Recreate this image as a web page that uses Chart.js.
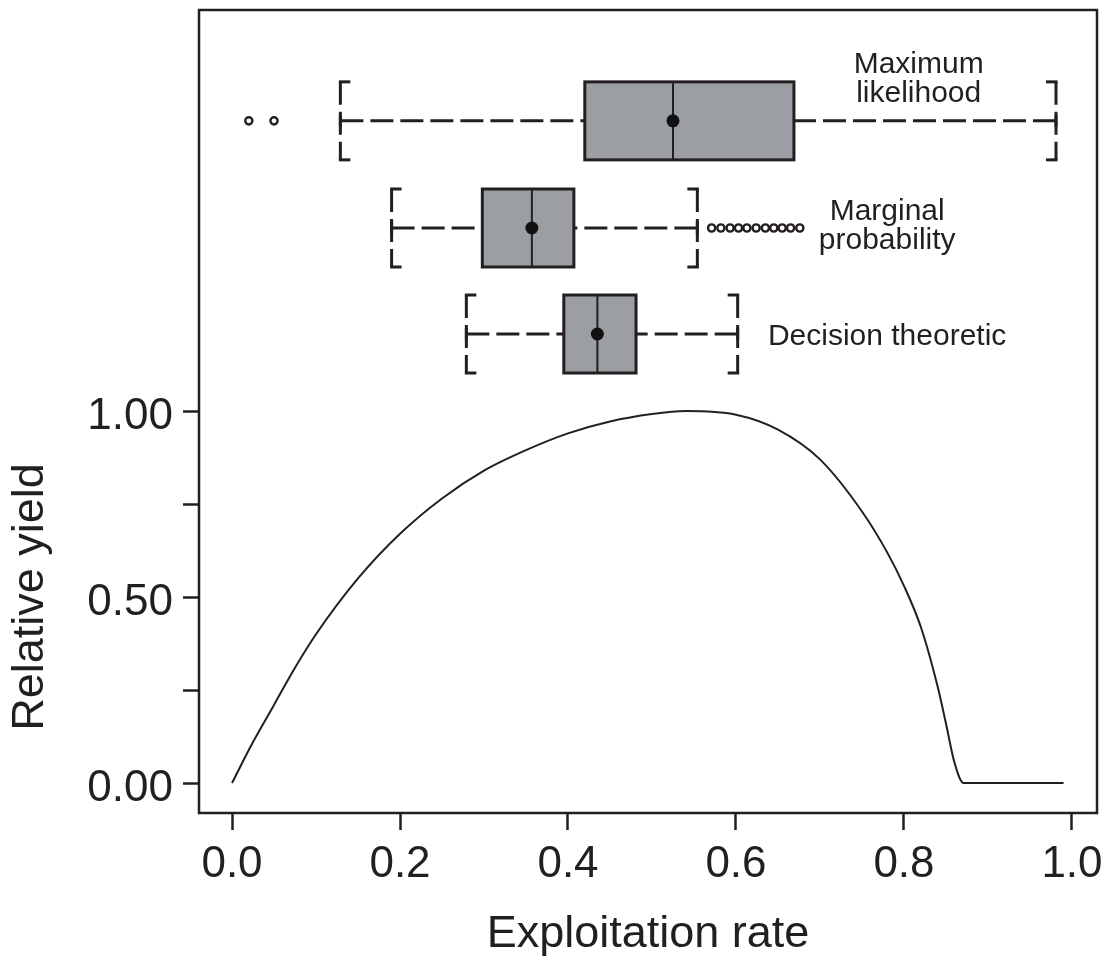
<!DOCTYPE html>
<html>
<head>
<meta charset="utf-8">
<script src="https://cdn.jsdelivr.net/npm/chart.js@4.4.1/dist/chart.umd.min.js"></script>
<style>
  html, body { margin: 0; padding: 0; background: #fff; }
</style>
</head>
<body>
<canvas id="chart" width="1112" height="963"></canvas>
<script>
// ================= DATA =================
const rateTicks = [0, 0.2, 0.4, 0.6, 0.8, 1.0];
const yieldTicks = [0, 0.25, 0.5, 0.75, 1.0];
const yieldLabels = [0, 0.5, 1.0];

// yield curve
const curveRate  = [0, 0.025, 0.05, 0.075, 0.1, 0.15, 0.2, 0.25, 0.3, 0.35, 0.4, 0.45, 0.5, 0.54, 0.6, 0.65, 0.7, 0.75, 0.78, 0.8, 0.82, 0.84, 0.85, 0.86, 0.871, 0.99];
const curveYield = [0, 0.11, 0.21, 0.31, 0.40, 0.55, 0.67, 0.765, 0.84, 0.895, 0.94, 0.972, 0.992, 1.0, 0.99, 0.95, 0.87, 0.73, 0.62, 0.53, 0.42, 0.26, 0.16, 0.056, 0, 0];

// box plots of the estimated exploitation rate
const methodNames = [["Maximum", "likelihood"], ["Marginal", "probability"], ["Decision theoretic"]];
const boxRow      = [1.780, 1.492, 1.207];   // where each box sits on the yield axis
const whiskerLow  = [0.129, 0.190, 0.279];
const q1          = [0.420, 0.298, 0.395];
const median      = [0.525, 0.357, 0.435];
const q3          = [0.669, 0.407, 0.481];
const whiskerHigh = [0.981, 0.554, 0.602];
const means       = [0.525, 0.357, 0.435];
const outliersML  = [0.020, 0.050];
const outliersMP  = [0.571, 0.582, 0.593, 0.603, 0.613, 0.624, 0.635, 0.645, 0.655, 0.665, 0.676];

// ================= STYLE =================
const INK = "#231f20";
const BOX_FILL = "#9b9ea2";
const BOX_HALF = 39;      // px
const FONT = '"Liberation Sans", Arial, Helvetica, sans-serif';
// label anchors (axis units) for the method names
const labelSpots = [
    { x: 0.8175, y: 1.909, align: "center" },
    { x: 0.780,  y: 1.513, align: "center" },
    { x: 0.638,  y: 1.177, align: "left" }
];

function seg(ctx, x1, y1, x2, y2) {
    ctx.beginPath();
    ctx.moveTo(x1, y1);
    ctx.lineTo(x2, y2);
    ctx.stroke();
}

const boxPlugin = {
    id: "boxes",
    beforeDatasetsDraw(chart) {
        const { ctx, scales: { x, y } } = chart;
        ctx.save();
        ctx.strokeStyle = INK;
        ctx.lineCap = "butt";
        boxRow.forEach((row, i) => {
            const cy = y.getPixelForValue(row);
            const top = cy - BOX_HALF, bot = cy + BOX_HALF;
            const xl = x.getPixelForValue(whiskerLow[i]);
            const x1 = x.getPixelForValue(q1[i]);
            const xm = x.getPixelForValue(median[i]);
            const x3 = x.getPixelForValue(q3[i]);
            const xh = x.getPixelForValue(whiskerHigh[i]);

            // dashed whiskers, drawn from the cap toward the box
            ctx.lineWidth = 3;
            ctx.setLineDash([23, 7]);
            seg(ctx, xl, cy, x1, cy);
            seg(ctx, xh, cy, x3, cy);
            // dashed caps
            seg(ctx, xl, top, xl, bot);
            seg(ctx, xh, top, xh, bot);
            ctx.setLineDash([]);
            seg(ctx, xl - 1.5, top, xl + 10, top);
            seg(ctx, xl - 1.5, bot, xl + 10, bot);
            seg(ctx, xh + 1.5, top, xh - 10, top);
            seg(ctx, xh + 1.5, bot, xh - 10, bot);
            seg(ctx, xl, cy - 6, xl, cy + 6);
            seg(ctx, xh, cy - 6, xh, cy + 6);

            // box
            ctx.fillStyle = BOX_FILL;
            ctx.fillRect(x1, top, x3 - x1, bot - top);
            ctx.lineWidth = 3;
            ctx.strokeRect(x1, top, x3 - x1, bot - top);
            ctx.lineWidth = 2;
            seg(ctx, xm, top, xm, bot);
        });
        ctx.restore();
    },
    afterDraw(chart) {
        const { ctx, chartArea: a, scales: { x, y } } = chart;
        ctx.save();
        // frame
        ctx.strokeStyle = INK;
        ctx.lineWidth = 2.5;
        ctx.strokeRect(a.left, a.top, a.right - a.left, a.bottom - a.top);

        // method names
        ctx.fillStyle = INK;
        ctx.font = "30px " + FONT;
        ctx.textBaseline = "alphabetic";
        methodNames.forEach((lines, i) => {
            const s = labelSpots[i];
            ctx.textAlign = s.align;
            lines.forEach((t, k) => {
                ctx.fillText(t, x.getPixelForValue(s.x), y.getPixelForValue(s.y) + k * 29);
            });
        });

        // y title, centred on the 0..1 range
        const cy = (y.getPixelForValue(0) + y.getPixelForValue(1)) / 2;
        ctx.translate(31, cy);
        ctx.rotate(-Math.PI / 2);
        ctx.font = "45px " + FONT;
        ctx.textAlign = "center";
        ctx.textBaseline = "middle";
        ctx.fillText("Relative yield", 0, 0);
        ctx.restore();
    }
};

// ================= CHART =================
const ctx = document.getElementById("chart").getContext("2d");
new Chart(ctx, {
    type: "scatter",
    data: {
        datasets: [
            {
                data: curveRate.map((r, i) => ({ x: r, y: curveYield[i] })),
                showLine: true,
                borderColor: INK,
                borderWidth: 2,
                pointRadius: 0,
                cubicInterpolationMode: "monotone"
            },
            {
                data: means.map((m, i) => ({ x: m, y: boxRow[i] })),
                pointRadius: 6.5,
                backgroundColor: "#111",
                borderWidth: 0
            },
            {
                data: outliersML.map(v => ({ x: v, y: boxRow[0] })),
                pointRadius: 3.6,
                backgroundColor: "#fff",
                borderColor: INK,
                borderWidth: 2.4
            },
            {
                data: outliersMP.map(v => ({ x: v, y: boxRow[1] })),
                pointRadius: 3.6,
                backgroundColor: "#fff",
                borderColor: INK,
                borderWidth: 2.4
            }
        ]
    },
    options: {
        responsive: false,
        animation: false,
        layout: { padding: { top: 10, right: 15, left: 0, bottom: 0 } },
        plugins: { legend: { display: false }, tooltip: { enabled: false } },
        scales: {
            x: {
                type: "linear",
                min: -0.0393,
                max: 1.0298,
                afterBuildTicks: s => { s.ticks = rateTicks.map(v => ({ value: v })); },
                afterFit: s => { s.height = 150; s.paddingLeft = 0; s.paddingRight = 0; },
                border: { display: false },
                grid: { drawOnChartArea: false, tickLength: 17, tickWidth: 2.5, tickColor: INK },
                ticks: {
                    font: { family: FONT, size: 44 },
                    color: INK,
                    padding: 8,
                    maxRotation: 0,
                    callback: v => v.toFixed(1)
                },
                title: {
                    display: true,
                    text: "Exploitation rate",
                    font: { family: FONT, size: 45 },
                    color: INK,
                    padding: { top: 0, bottom: 1 }
                }
            },
            y: {
                type: "linear",
                min: -0.0806,
                max: 2.078,
                afterBuildTicks: s => { s.ticks = yieldTicks.map(v => ({ value: v })); },
                afterFit: s => { s.width = 199; s.paddingTop = 0; s.paddingBottom = 0; },
                border: { display: false },
                grid: { drawOnChartArea: false, tickLength: 16, tickWidth: 2.5, tickColor: INK },
                ticks: {
                    font: { family: FONT, size: 44 },
                    color: INK,
                    padding: 10,
                    labelOffset: 6,
                    callback: v => yieldLabels.includes(v) ? v.toFixed(2) : ""
                }
            }
        }
    },
    plugins: [boxPlugin]
});
</script>
</body>
</html>
